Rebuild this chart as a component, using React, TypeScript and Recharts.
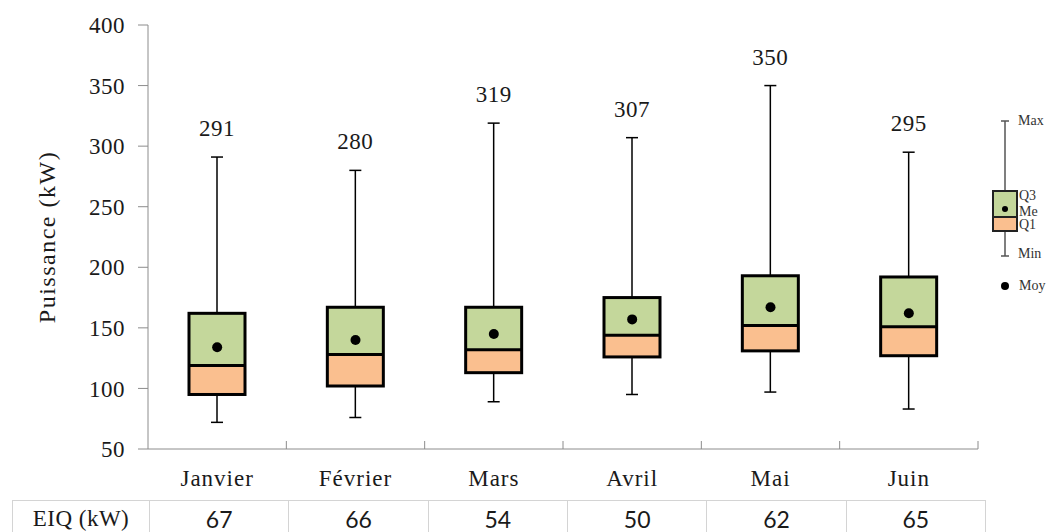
import React from 'react';
import { ComposedChart, Bar, Scatter, XAxis, YAxis } from 'recharts';

const months = ['Janvier', 'Février', 'Mars', 'Avril', 'Mai', 'Juin'];
const minVals = [72, 76, 89, 95, 97, 83];
const q1Vals = [95, 102, 113, 126, 131, 127];
const medVals = [119, 128, 132, 144, 152, 151];
const q3Vals = [162, 167, 167, 175, 193, 192];
const maxVals = [291, 280, 319, 307, 350, 295];
const meanVals = [134, 140, 145, 157, 167, 162];
const eiqVals = [67, 66, 54, 50, 62, 65];
const yTicks = [50, 100, 150, 200, 250, 300, 350, 400];

const data = months.map((m, i) => ({
  month: m,
  min: minVals[i],
  q1: q1Vals[i],
  med: medVals[i],
  q3: q3Vals[i],
  max: maxVals[i],
  mean: meanVals[i],
  range: [minVals[i], maxVals[i]],
}));

const SERIF = '"Liberation Serif", "Times New Roman", serif';
const GREEN = '#c4d79b';
const ORANGE = '#fabf8f';
const PLOT_W = 830;
const BAND = PLOT_W / months.length;

const BoxShape = (props: any) => {
  const { x, y, width, height, payload } = props;
  const top = Math.min(y, y + height);
  const bottom = Math.max(y, y + height);
  const span = payload.max - payload.min;
  const py = (v: number) => bottom - ((v - payload.min) / span) * (bottom - top);
  const cx = x + width / 2;
  const yq3 = py(payload.q3);
  const ymed = py(payload.med);
  const yq1 = py(payload.q1);
  return (
    <g>
      <line x1={cx} x2={cx} y1={top} y2={yq3} stroke="#000" strokeWidth={1.5} />
      <line x1={cx} x2={cx} y1={yq1} y2={bottom} stroke="#000" strokeWidth={1.5} />
      <line x1={cx - 6} x2={cx + 6} y1={top} y2={top} stroke="#000" strokeWidth={1.5} />
      <line x1={cx - 6} x2={cx + 6} y1={bottom} y2={bottom} stroke="#000" strokeWidth={1.5} />
      <rect x={x} y={yq3} width={width} height={ymed - yq3} fill={GREEN} />
      <rect x={x} y={ymed} width={width} height={yq1 - ymed} fill={ORANGE} />
      <rect x={x} y={yq3} width={width} height={yq1 - yq3} fill="none" stroke="#000" strokeWidth={3} />
      <line x1={x} x2={x + width} y1={ymed} y2={ymed} stroke="#000" strokeWidth={3} />
      <text x={cx} y={top - 21} textAnchor="middle" fontFamily={SERIF} fontSize={23} fill="#1a1a1a" letterSpacing={0.5}>
        {payload.max}
      </text>
    </g>
  );
};

const MeanDot = (props: any) => <circle cx={props.cx} cy={props.cy} r={5} fill="#000" />;

const MonthTick = (props: any) => {
  const { x, y, payload } = props;
  return (
    <g>
      <line x1={x + BAND / 2} x2={x + BAND / 2} y1={y} y2={y - 8} stroke="#8c8c8c" />
      <text x={x} y={y + 37} textAnchor="middle" fontFamily={SERIF} fontSize={23} fill="#1a1a1a" letterSpacing={1}>
        {payload.value}
      </text>
    </g>
  );
};

const YLabel = () => (
  <text
    x={47}
    y={237}
    transform="rotate(-90, 47, 237)"
    textAnchor="middle"
    dominantBaseline="central"
    fontFamily={SERIF}
    fontSize={24}
    fill="#1a1a1a"
    letterSpacing={1.5}
  >
    Puissance (kW)
  </text>
);

const Legend = () => (
  <svg width={1060} height={532} style={{ position: 'absolute', left: 0, top: 0, pointerEvents: 'none' }}>
    <line x1={1005} x2={1005} y1={121} y2={256} stroke="#555" strokeWidth={1.5} />
    <line x1={1001} x2={1009} y1={121} y2={121} stroke="#555" strokeWidth={1.5} />
    <line x1={1001} x2={1009} y1={256} y2={256} stroke="#555" strokeWidth={1.5} />
    <rect x={993} y={191} width={24} height={26} fill={GREEN} />
    <rect x={993} y={217} width={24} height={14} fill={ORANGE} />
    <rect x={993} y={191} width={24} height={40} fill="none" stroke="#222" strokeWidth={2} />
    <line x1={993} x2={1017} y1={217} y2={217} stroke="#222" strokeWidth={2} />
    <circle cx={1005} cy={209} r={3} fill="#000" />
    <circle cx={1005} cy={286} r={4} fill="#000" />
    <g fontFamily={SERIF} fontSize={14} fill="#333">
      <text x={1018} y={125}>Max</text>
      <text x={1019} y={200}>Q3</text>
      <text x={1019} y={216}>Me</text>
      <text x={1019} y={229}>Q1</text>
      <text x={1018} y={258}>Min</text>
      <text x={1019} y={290}>Moy</text>
    </g>
  </svg>
);

const cellStyle: React.CSSProperties = {
  border: '1px solid #d4d4d4',
  textAlign: 'center',
  padding: 0,
  height: 36,
};

const App: React.FC = () => {
  return (
    <div style={{ position: 'absolute', left: 0, top: 0, width: 1060, height: 532, background: '#fff', overflow: 'hidden' }}>
      <ComposedChart width={1060} height={532} data={data} margin={{ top: 25, right: 82, bottom: 0, left: 0 }}>
        <XAxis
          dataKey="month"
          height={83}
          stroke="#8c8c8c"
          tickLine={false}
          tickSize={0}
          tickMargin={0}
          tick={<MonthTick />}
          interval={0}
        />
        <XAxis xAxisId="top" dataKey="month" orientation="top" height={0} tick={false} tickLine={false} stroke="#555" />
        <YAxis
          type="number"
          domain={[50, 400]}
          ticks={yTicks}
          width={148}
          stroke="#8c8c8c"
          tickSize={10}
          tickMargin={13}
          tick={{ fontFamily: SERIF, fontSize: 23, fill: '#1a1a1a', letterSpacing: 0.5 }}
          label={<YLabel />}
        />
        <YAxis yAxisId="r" orientation="right" type="number" domain={[50, 400]} width={0} tick={false} tickLine={false} stroke="#222" />
        <Bar dataKey="range" barSize={56} shape={<BoxShape />} isAnimationActive={false} />
        <Scatter dataKey="mean" shape={<MeanDot />} isAnimationActive={false} />
      </ComposedChart>
      <Legend />
      <table
        style={{
          position: 'absolute',
          left: 12,
          top: 500,
          borderCollapse: 'collapse',
          tableLayout: 'fixed',
        }}
      >
        <tbody>
          <tr>
            <td style={{ ...cellStyle, width: 136, fontFamily: SERIF, fontSize: 23, color: '#1a1a1a', letterSpacing: 0.5 }}>EIQ (kW)</td>
            {eiqVals.map((v, i) => (
              <td key={i} style={{ ...cellStyle, width: BAND, fontFamily: 'Lato, sans-serif', fontSize: 23, color: '#1a1a1a' }}>
                {v}
              </td>
            ))}
          </tr>
        </tbody>
      </table>
    </div>
  );
};

export default App;
